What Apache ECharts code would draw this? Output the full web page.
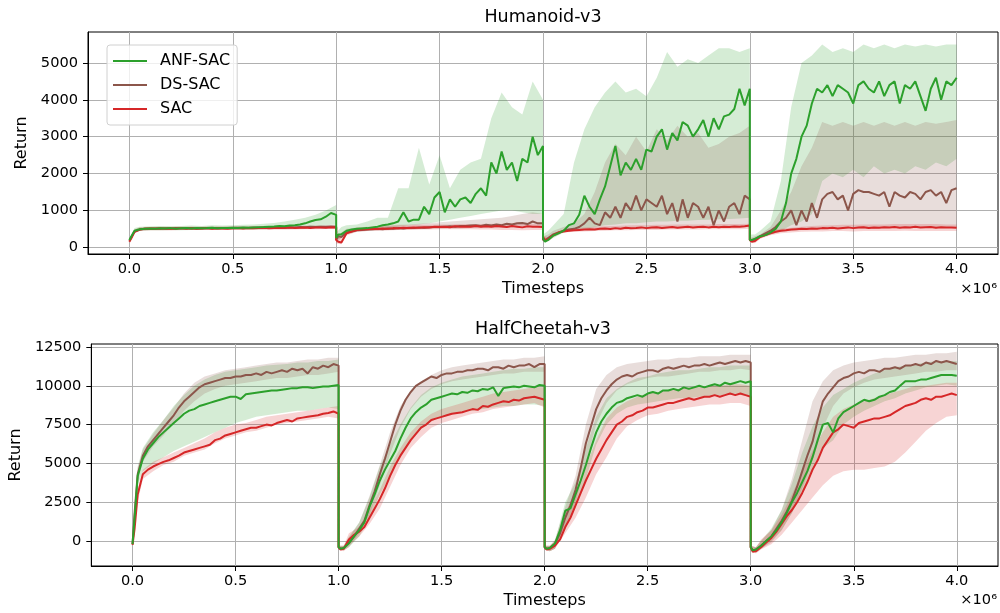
<!DOCTYPE html>
<html>
<head>
<meta charset="utf-8">
<title>Humanoid-v3 / HalfCheetah-v3</title>
<script src="https://cdn.jsdelivr.net/npm/echarts@6/dist/echarts.min.js"></script>
<style>
  html, body { margin: 0; padding: 0; background: #fff; }
  #chart { width: 1000px; height: 613px; }
</style>
</head>
<body>
<div id="chart"></div>
<script>
// every run restarts at each 1e6 block, so values are stored block by block
// (x in millions of timesteps, offsets inside a block)
var lineSteps = [0, 0.01, 0.025, 0.05, 0.075, 0.1, 0.125, 0.15, 0.175, 0.2, 0.225, 0.25, 0.275, 0.3,
  0.325, 0.35, 0.375, 0.4, 0.425, 0.45, 0.475, 0.5, 0.525, 0.55, 0.575, 0.6, 0.625, 0.65, 0.675,
  0.7, 0.725, 0.75, 0.775, 0.8, 0.825, 0.85, 0.875, 0.9, 0.925, 0.95, 0.975, 1];
var bandSteps = [0, 0.025, 0.05, 0.1, 0.15, 0.2, 0.25, 0.3, 0.35, 0.4, 0.45, 0.5, 0.55, 0.6, 0.65,
  0.7, 0.75, 0.8, 0.85, 0.9, 0.95, 1];

var xTicks = [0, 0.5, 1, 1.5, 2, 2.5, 3, 3.5, 4];
var humanoidTicks = [0, 1000, 2000, 3000, 4000, 5000];
var cheetahTicks = [0, 2500, 5000, 7500, 10000, 12500];

var algos = ['ANF-SAC', 'DS-SAC', 'SAC'];
var colors = ['#2ca02c', '#8c564b', '#d62728'];
var fills = ['rgba(44,160,44,0.2)', 'rgba(140,86,75,0.2)', 'rgba(214,39,40,0.2)'];

// ---- Humanoid-v3 mean return ----
var humanoidAnf = [
  200, 300, 450, 490, 500, 510, 505, 515, 510, 520, 505, 515, 520, 510, 525, 515, 520, 530, 515, 525, 520, 530, 525, 535, 530, 540, 545, 550, 560, 565, 575, 570, 590, 600, 620, 650, 700, 740, 760, 830, 930, 880,
  250, 350, 350, 450, 480, 500, 510, 520, 540, 560, 600, 620, 650, 700, 950, 700, 750, 750, 1100, 900, 1350, 1500, 950, 1300, 1100, 1300, 1350, 1200, 1450, 1600, 1400, 2300, 2000, 2600, 2100, 2300, 1800, 2400, 2300, 3000, 2500, 2750,
  250, 150, 200, 320, 380, 450, 600, 650, 880, 1400, 1100, 900, 1300, 1650, 2200, 2750, 1950, 2300, 2100, 2400, 2100, 2650, 2600, 3000, 3200, 2650, 3100, 2900, 3400, 3300, 3000, 3200, 3450, 3000, 3500, 3200, 3550, 3600, 3750, 4300, 3850, 4300,
  200, 200, 230, 300, 330, 400, 500, 700, 1200, 2000, 2400, 3000, 3300, 3900, 4300, 4200, 4400, 4100, 4400, 4300, 4200, 3900, 4400, 4500, 4300, 4200, 4500, 4100, 4400, 4500, 3900, 4400, 4300, 4500, 4100, 3700, 4300, 4600, 4000, 4500, 4400, 4600
];
var humanoidDs = [
  180, 280, 430, 480, 500, 505, 510, 505, 515, 510, 520, 510, 515, 520, 510, 525, 515, 520, 515, 520, 525, 520, 530, 520, 525, 530, 525, 535, 530, 540, 535, 540, 545, 540, 550, 545, 555, 550, 560, 555, 565, 560,
  200, 300, 280, 400, 430, 460, 470, 480, 490, 500, 490, 510, 500, 520, 510, 530, 520, 540, 530, 545, 550, 560, 555, 570, 560, 580, 575, 590, 600, 580, 610, 590, 620, 600, 640, 620, 650, 660, 630, 700, 650, 650,
  200, 180, 250, 350, 400, 450, 480, 500, 550, 650, 800, 650, 600, 950, 800, 1100, 800, 1200, 1000, 1400, 1000, 1300, 1200, 1100, 1400, 900, 1200, 700, 1300, 800, 1200, 1100, 800, 1100, 600, 1000, 700, 1100, 1200, 900, 1400, 1300,
  200, 180, 220, 300, 380, 450, 550, 700, 800, 1000, 600, 1000, 700, 1200, 800, 1300, 1450, 1500, 1300, 1400, 1000, 1450, 1550, 1500, 1500, 1450, 1400, 1500, 1100, 1500, 1400, 1350, 1500, 1450, 1300, 1500, 1550, 1400, 1500, 1200, 1550, 1600
];
var humanoidSac = [
  150, 250, 420, 480, 500, 510, 500, 515, 505, 510, 500, 520, 505, 515, 500, 510, 520, 505, 515, 510, 500, 515, 520, 510, 525, 515, 520, 530, 515, 525, 530, 520, 535, 525, 530, 540, 525, 535, 540, 530, 545, 540,
  200, 150, 130, 380, 430, 470, 480, 490, 500, 495, 510, 505, 520, 515, 530, 525, 540, 530, 545, 540, 555, 550, 560, 545, 570, 555, 565, 560, 575, 555, 570, 560, 580, 565, 550, 575, 560, 540, 570, 555, 560, 550,
  280, 200, 220, 330, 400, 430, 450, 460, 470, 480, 490, 480, 500, 510, 495, 520, 505, 530, 515, 525, 540, 520, 535, 545, 525, 540, 550, 530, 545, 555, 535, 550, 560, 540, 555, 545, 560, 550, 565, 555, 570, 590,
  200, 150, 170, 280, 330, 380, 420, 450, 460, 480, 490, 500, 495, 510, 505, 520, 515, 530, 510, 525, 540, 520, 535, 545, 525, 540, 530, 545, 535, 550, 530, 545, 540, 555, 535, 545, 550, 530, 545, 535, 540, 530
];

// ---- Humanoid-v3 shaded range (lower / upper) ----
var humanoidAnfLow = [
  150, 400, 440, 460, 460, 470, 460, 470, 470, 470, 470, 480, 470, 480, 490, 500, 510, 520, 540, 560, 600, 620,
  200, 250, 380, 460, 480, 500, 520, 560, 600, 620, 650, 700, 750, 800, 850, 900, 950, 1000, 1000, 950, 900, 900,
  150, 180, 250, 400, 450, 500, 550, 600, 620, 650, 650, 680, 700, 700, 720, 720, 740, 750, 760, 770, 780, 800,
  150, 170, 250, 350, 450, 600, 700, 900, 1800, 2000, 1900, 2100, 1900, 2200, 2000, 2100, 2000, 2200, 2100, 2300, 2200, 2400
];
var humanoidAnfHigh = [
  250, 520, 560, 570, 580, 570, 580, 590, 580, 600, 590, 600, 610, 620, 640, 660, 700, 750, 800, 880, 1000, 1150,
  400, 550, 600, 620, 700, 800, 800, 1600, 1600, 2700, 1700, 2500, 1600, 2100, 2300, 2400, 3500, 4200, 3800, 3600, 4500, 4000,
  350, 450, 600, 900, 2300, 3200, 3800, 4200, 4500, 4200, 4300, 4100, 4600, 5300, 4900, 5100, 5000, 5200, 5400, 5400, 5300, 5400,
  350, 350, 450, 700, 1800, 3800, 5000, 5200, 5500, 5300, 5400, 5300, 5500, 5400, 5500, 5400, 5500, 5450, 5500, 5450, 5500, 5500
];
var humanoidDsLow = [
  140, 380, 450, 460, 465, 460, 470, 470, 470, 475, 480, 475, 480, 485, 480, 490, 490, 495, 500, 500, 505, 510,
  120, 250, 350, 420, 440, 450, 460, 470, 480, 490, 500, 500, 510, 510, 520, 520, 530, 530, 540, 540, 550, 540,
  150, 200, 300, 420, 450, 460, 470, 480, 490, 500, 500, 510, 510, 520, 520, 520, 530, 530, 530, 540, 540, 550,
  150, 160, 250, 350, 420, 450, 470, 480, 490, 500, 500, 510, 510, 510, 520, 520, 520, 520, 530, 530, 530, 530
];
var humanoidDsHigh = [
  220, 480, 540, 550, 555, 550, 560, 555, 560, 565, 560, 570, 565, 575, 570, 580, 585, 590, 590, 600, 600, 610,
  300, 400, 500, 540, 560, 570, 590, 610, 620, 640, 660, 680, 700, 720, 740, 760, 780, 800, 850, 900, 950, 900,
  300, 350, 450, 550, 650, 900, 1500, 2300, 2800, 2500, 3000, 2600, 3200, 2900, 3300, 3000, 3100, 2700, 2800, 3000, 3100, 3300,
  250, 300, 350, 550, 1000, 1500, 2200, 2700, 3400, 3300, 3400, 3300, 3400, 3300, 3400, 3300, 3400, 3300, 3400, 3350, 3400, 3450
];
var humanoidSacLow = [
  100, 380, 450, 460, 465, 465, 470, 470, 470, 475, 475, 475, 480, 480, 480, 485, 485, 485, 490, 490, 495, 495,
  100, 80, 320, 420, 440, 450, 460, 470, 470, 480, 480, 490, 490, 490, 490, 480, 480, 470, 470, 460, 470, 470,
  220, 160, 280, 400, 420, 430, 440, 450, 460, 460, 470, 470, 470, 480, 480, 480, 480, 490, 490, 490, 490, 500,
  150, 110, 230, 330, 380, 400, 420, 430, 430, 440, 440, 430, 440, 440, 440, 440, 450, 440, 440, 440, 440, 440
];
var humanoidSacHigh = [
  200, 480, 540, 550, 550, 555, 555, 560, 560, 560, 565, 565, 565, 570, 570, 570, 575, 575, 580, 580, 585, 585,
  250, 250, 450, 530, 550, 560, 580, 590, 600, 610, 610, 620, 620, 630, 630, 630, 640, 640, 640, 640, 640, 640,
  320, 270, 380, 490, 520, 540, 560, 570, 580, 590, 600, 600, 610, 610, 620, 620, 620, 620, 630, 630, 630, 640,
  250, 220, 330, 450, 500, 530, 560, 580, 590, 600, 610, 610, 620, 620, 620, 630, 630, 630, 630, 630, 620, 620
];

// ---- HalfCheetah-v3 mean return ----
var cheetahAnf = [
  -200, 1500, 4200, 5300, 5900, 6300, 6700, 7000, 7300, 7600, 7900, 8200, 8400, 8500, 8700, 8800, 8900, 9000, 9100, 9200, 9300, 9300, 9150, 9450, 9500, 9550, 9600, 9650, 9700, 9700, 9750, 9800, 9850, 9850, 9900, 9900, 9850, 9900, 9950, 9950, 10000, 10050,
  -400, -500, -450, -150, 300, 700, 1200, 2200, 3000, 3900, 4600, 5200, 5800, 6600, 7300, 7900, 8300, 8600, 8800, 9100, 9200, 9300, 9400, 9500, 9450, 9600, 9550, 9700, 9650, 9800, 9750, 9900, 9350, 9850, 9900, 9950, 9900, 10000, 9950, 9900, 10050, 10000,
  -400, -500, -450, -150, 700, 1950, 2100, 3000, 3900, 4900, 6000, 7000, 7700, 8200, 8600, 8900, 9000, 9200, 9300, 9400, 9300, 9500, 9600, 9500, 9700, 9700, 9800, 9700, 9900, 9800, 9900, 10000, 9900, 10000, 10100, 10000, 10200, 10100, 10200, 10300, 10200, 10300,
  -400, -600, -550, -300, 0, 300, 700, 1200, 1800, 2500, 3100, 3800, 4500, 5400, 6500, 7500, 7600, 7000, 7900, 8300, 8500, 8700, 8900, 9100, 9000, 9100, 9300, 9400, 9600, 9700, 10000, 10300, 10300, 10300, 10400, 10400, 10500, 10600, 10700, 10700, 10700, 10650
];
var cheetahDs = [
  -200, 1800, 4300, 5500, 6100, 6500, 6900, 7300, 7700, 8100, 8600, 9000, 9300, 9600, 9900, 10100, 10200, 10300, 10400, 10500, 10500, 10600, 10600, 10700, 10700, 10800, 10700, 10900, 10800, 10900, 11000, 10900, 11100, 11000, 11100, 10800, 11200, 11100, 11300, 11200, 11400, 11300,
  -400, -500, -450, -100, 300, 800, 1300, 2300, 3200, 4300, 5300, 6400, 7500, 8400, 9100, 9600, 10000, 10200, 10400, 10600, 10500, 10700, 10800, 10800, 10900, 10900, 11000, 11000, 11100, 11100, 11000, 11200, 11200, 11100, 11300, 11200, 11300, 11300, 11400, 11200, 11400, 11400,
  -400, -500, -450, -200, 500, 1500, 2300, 3300, 4700, 6300, 7400, 8500, 9200, 9700, 10100, 10400, 10600, 10700, 10600, 10800, 10900, 11000, 11000, 10900, 11100, 11200, 11100, 11200, 11300, 11200, 11300, 11300, 11400, 11300, 11400, 11500, 11400, 11500, 11600, 11500, 11600, 11500,
  -400, -600, -550, -300, 0, 300, 800, 1300, 1900, 2600, 3500, 4500, 5500, 6400, 7800, 9000, 9500, 9900, 10300, 10500, 10600, 10800, 10900, 10800, 11000, 11000, 10900, 11100, 11100, 11200, 11100, 11300, 11300, 11400, 11300, 11500, 11400, 11600, 11500, 11600, 11500, 11400
];
var cheetahSac = [
  -250, 800, 3000, 4300, 4600, 4800, 4950, 5100, 5200, 5350, 5500, 5700, 5800, 5900, 6000, 6100, 6200, 6500, 6600, 6800, 6900, 7000, 7100, 7200, 7300, 7300, 7400, 7500, 7450, 7600, 7700, 7800, 7700, 7900, 7950, 8000, 8050, 8100, 8200, 8250, 8350, 8200,
  -400, -550, -500, 100, 400, 600, 900, 1500, 2100, 2700, 3400, 4200, 4900, 5500, 6000, 6500, 6900, 7300, 7500, 7800, 7900, 8000, 8100, 8200, 8250, 8300, 8400, 8500, 8450, 8700, 8650, 8800, 8900, 9000, 8950, 9100, 9050, 9200, 9250, 9300, 9200, 9100,
  -400, -550, -500, -300, 100, 900, 1500, 2300, 3100, 3900, 4600, 5300, 5900, 6500, 7000, 7500, 7700, 8000, 8100, 8300, 8400, 8600, 8600, 8700, 8800, 8900, 8900, 9000, 9100, 9200, 9100, 9200, 9300, 9300, 9400, 9300, 9400, 9500, 9400, 9500, 9400, 9300,
  -400, -700, -650, -400, -100, 200, 600, 1100, 1600, 2000, 2500, 3100, 3800, 4600, 5200, 6000, 6500, 7000, 7200, 7500, 7400, 7300, 7600, 7700, 7800, 7900, 7900, 8000, 8100, 8300, 8500, 8700, 8800, 8900, 9100, 9200, 9100, 9300, 9300, 9400, 9500, 9400
];

// ---- HalfCheetah-v3 shaded range (lower / upper) ----
var cheetahAnfLow = [
  -300, 3600, 4500, 5000, 5400, 5800, 6100, 6400, 6700, 7000, 7300, 7600, 7800, 8000, 8100, 8200, 8300, 8400, 8400, 8500, 8600, 8500,
  -550, -600, -400, 300, 1500, 3000, 4200, 5500, 6500, 7200, 7700, 8000, 8200, 8300, 8400, 8500, 8600, 8700, 8700, 8800, 8800, 8700,
  -550, -650, -500, 1000, 2300, 4000, 6200, 7500, 8200, 8600, 8800, 8900, 9000, 9100, 9200, 9200, 9300, 9300, 9400, 9400, 9400, 9300,
  -600, -750, -500, 0, 700, 1800, 3000, 4500, 6000, 6500, 7500, 8000, 8400, 8700, 9000, 9200, 9500, 9700, 9900, 10000, 10100, 10000
];
var cheetahAnfHigh = [
  -100, 4800, 6000, 7000, 7800, 8700, 9400, 10000, 10400, 10700, 10900, 11000, 11100, 11200, 11300, 11350, 11400, 11500, 11500, 11600, 11600, 11700,
  -300, -300, 300, 1200, 2800, 4800, 6200, 7500, 8600, 9400, 9900, 10200, 10400, 10600, 10700, 10800, 10900, 11000, 11100, 11100, 11200, 11200,
  -300, -300, 0, 2500, 3800, 6000, 8000, 9200, 9800, 10200, 10500, 10600, 10800, 10900, 11000, 11000, 11100, 11200, 11200, 11300, 11300, 11300,
  -300, -400, 0, 800, 2000, 3700, 5700, 7400, 8600, 9400, 9800, 10200, 10500, 10800, 11000, 11200, 11300, 11400, 11500, 11600, 11600, 11600
];
var cheetahDsLow = [
  -300, 3800, 5100, 6100, 6800, 7600, 8400, 9000, 9500, 9800, 10000, 10100, 10200, 10300, 10400, 10500, 10500, 10600, 10700, 10700, 10800, 10900,
  -550, -600, -400, 500, 1700, 3600, 5600, 7300, 8500, 9300, 9800, 10100, 10300, 10400, 10500, 10600, 10700, 10800, 10800, 10900, 10900, 10900,
  -550, -650, -500, 800, 2500, 5000, 7500, 8900, 9700, 10100, 10300, 10500, 10600, 10600, 10700, 10800, 10900, 10900, 11000, 11000, 11100, 11000,
  -600, -750, -500, -100, 700, 1800, 3400, 5200, 7300, 8700, 9500, 9900, 10200, 10400, 10500, 10600, 10700, 10800, 10900, 10900, 11000, 11000
];
var cheetahDsHigh = [
  -100, 4700, 5900, 6900, 7800, 8600, 9500, 10200, 10600, 10800, 11000, 11100, 11200, 11300, 11400, 11500, 11500, 11600, 11700, 11700, 11800, 11800,
  -300, -300, 200, 1200, 2900, 4900, 7000, 8700, 9700, 10300, 10700, 11000, 11200, 11300, 11400, 11500, 11600, 11700, 11700, 11800, 11800, 11900,
  -300, -300, 100, 2200, 4200, 7500, 9800, 10700, 11200, 11400, 11500, 11600, 11700, 11700, 11800, 11800, 11900, 11900, 11900, 12000, 12000, 12000,
  -300, -400, 0, 700, 2000, 4000, 6500, 9000, 10300, 11000, 11300, 11500, 11600, 11700, 11800, 11800, 11900, 12000, 12000, 12100, 12100, 12200
];
var cheetahSacLow = [
  -350, 2500, 4000, 4500, 4900, 5100, 5500, 5700, 5900, 6300, 6600, 6800, 7000, 7100, 7300, 7500, 7600, 7700, 7800, 7900, 8000, 7900,
  -550, -650, -300, 300, 1100, 2100, 3500, 4900, 6000, 6700, 7300, 7600, 7800, 8000, 8200, 8300, 8500, 8600, 8700, 8800, 8900, 8600,
  -550, -650, -500, 500, 1500, 2800, 4300, 5400, 6600, 7400, 7800, 8100, 8200, 8400, 8500, 8600, 8700, 8800, 8800, 8900, 8900, 8700,
  -600, -800, -550, -200, 400, 1200, 2000, 2800, 3600, 4200, 4500, 4600, 4600, 4700, 4800, 5100, 5700, 6400, 7100, 7600, 8000, 8100
];
var cheetahSacHigh = [
  -150, 3400, 4600, 5100, 5400, 5700, 6000, 6300, 6600, 7000, 7300, 7500, 7600, 7800, 8000, 8100, 8200, 8300, 8400, 8500, 8600, 8700,
  -300, -300, 500, 900, 2000, 3300, 4800, 6000, 7000, 7700, 8200, 8500, 8700, 8900, 9100, 9300, 9500, 9600, 9700, 9800, 9900, 9900,
  -300, -300, 0, 1800, 3200, 4800, 6500, 7900, 8600, 9000, 9300, 9500, 9600, 9700, 9800, 9900, 9900, 10000, 10000, 10100, 10100, 10000,
  -300, -400, 100, 700, 1700, 3000, 4500, 5800, 7000, 8000, 8500, 8800, 9000, 9200, 9400, 9600, 9800, 10000, 10000, 10100, 10200, 10200
];

var chart = echarts.init(document.getElementById('chart'), null, { renderer: 'canvas' });

function toPoints(values) {
  var n = lineSteps.length;
  return values.map(function (v, i) {
    return [Math.floor(i / n) + lineSteps[i % n], v];
  });
}

function lineSeries(k, values, gi) {
  return {
    name: algos[k], type: 'line', xAxisIndex: gi, yAxisIndex: gi,
    data: toPoints(values), showSymbol: false, symbol: 'none', z: 3,
    lineStyle: { color: colors[k], width: 2 }, itemStyle: { color: colors[k] },
    emphasis: { disabled: true }
  };
}

function bandSeries(k, low, high, gi) {
  return {
    name: algos[k] + ' range', type: 'custom', xAxisIndex: gi, yAxisIndex: gi,
    silent: true, z: 1,
    data: [[0, 0], [1, 0], [2, 0], [3, 0]],
    encode: { x: 0, y: 1 },
    renderItem: function (params, api) {
      var b = params.dataIndex, n = bandSteps.length, pts = [], j;
      for (j = 0; j < n; j++) pts.push(api.coord([b + bandSteps[j], high[b * n + j]]));
      for (j = n - 1; j >= 0; j--) pts.push(api.coord([b + bandSteps[j], low[b * n + j]]));
      return { type: 'polygon', shape: { points: pts }, style: { fill: fills[k] } };
    }
  };
}

function xAxisOpt(gi) {
  return {
    type: 'value', gridIndex: gi, min: -0.2, max: 4.2,
    name: 'Timesteps', nameLocation: 'middle', nameGap: 27,
    nameTextStyle: { fontSize: 16, color: '#000' },
    axisLine: { show: true, onZero: false, lineStyle: { color: '#000', width: 1 } },
    axisTick: { show: true, length: 5, customValues: xTicks, lineStyle: { color: '#000' } },
    axisLabel: {
      customValues: xTicks, fontSize: 14.6, color: '#000', margin: 8,
      formatter: function (v) { return v.toFixed(1); }
    },
    splitLine: { show: true, lineStyle: { color: '#b0b0b0', width: 1 } }
  };
}

function yAxisOpt(gi, min, max, ticks, gap) {
  return {
    type: 'value', gridIndex: gi, min: min, max: max,
    name: 'Return', nameLocation: 'middle', nameGap: gap, nameRotate: 90,
    nameTextStyle: { fontSize: 16, color: '#000' },
    axisLine: { show: true, onZero: false, lineStyle: { color: '#000', width: 1 } },
    axisTick: { show: true, length: 5, customValues: ticks, lineStyle: { color: '#000' } },
    axisLabel: {
      customValues: ticks, fontSize: 14.6, color: '#000', margin: 10,
      formatter: function (v) { return String(v); }
    },
    splitLine: { show: true, lineStyle: { color: '#b0b0b0', width: 1 } }
  };
}

function label(text, x, y, size, align) {
  return {
    type: 'text', x: x, y: y, silent: true,
    style: { text: text, fontSize: size, fontFamily: 'DejaVu Sans', fill: '#000',
      align: align, verticalAlign: 'middle' }
  };
}

var option = {
  animation: false,
  textStyle: { fontFamily: 'DejaVu Sans' },
  grid: [
    { left: 88, top: 32, width: 910, height: 222, show: true, borderColor: '#000', borderWidth: 1, backgroundColor: 'transparent' },
    { left: 88, top: 344, width: 910, height: 222, show: true, borderColor: '#000', borderWidth: 1, backgroundColor: 'transparent' }
  ],
  xAxis: [xAxisOpt(0), xAxisOpt(1)],
  yAxis: [
    yAxisOpt(0, -182, 5840, humanoidTicks, 48),
    yAxisOpt(1, -1608, 12693, cheetahTicks, 64)
  ],
  legend: {
    data: algos, orient: 'vertical', left: 107, top: 45,
    padding: [8, 7, 8, 6], itemWidth: 34, itemHeight: 2, itemGap: 8, icon: 'rect',
    backgroundColor: 'rgba(255,255,255,0.8)', borderColor: '#d0d0d0', borderWidth: 1, borderRadius: 3,
    selectedMode: false,
    textStyle: { fontSize: 16, color: '#000', lineHeight: 16, padding: [0, 0, 0, 8] }
  },
  graphic: [
    label('Humanoid-v3', 543, 17, 17.5, 'center'),
    label('HalfCheetah-v3', 543, 329, 17.5, 'center'),
    label('\u00d710\u2076', 997, 289, 14.6, 'right'),
    label('\u00d710\u2076', 997, 600, 14.6, 'right')
  ],
  series: [
    bandSeries(0, humanoidAnfLow, humanoidAnfHigh, 0),
    bandSeries(1, humanoidDsLow, humanoidDsHigh, 0),
    bandSeries(2, humanoidSacLow, humanoidSacHigh, 0),
    bandSeries(0, cheetahAnfLow, cheetahAnfHigh, 1),
    bandSeries(1, cheetahDsLow, cheetahDsHigh, 1),
    bandSeries(2, cheetahSacLow, cheetahSacHigh, 1),
    lineSeries(1, humanoidDs, 0),
    lineSeries(2, humanoidSac, 0),
    lineSeries(0, humanoidAnf, 0),
    lineSeries(1, cheetahDs, 1),
    lineSeries(2, cheetahSac, 1),
    lineSeries(0, cheetahAnf, 1)
  ]
};

chart.setOption(option);
</script>
</body>
</html>
